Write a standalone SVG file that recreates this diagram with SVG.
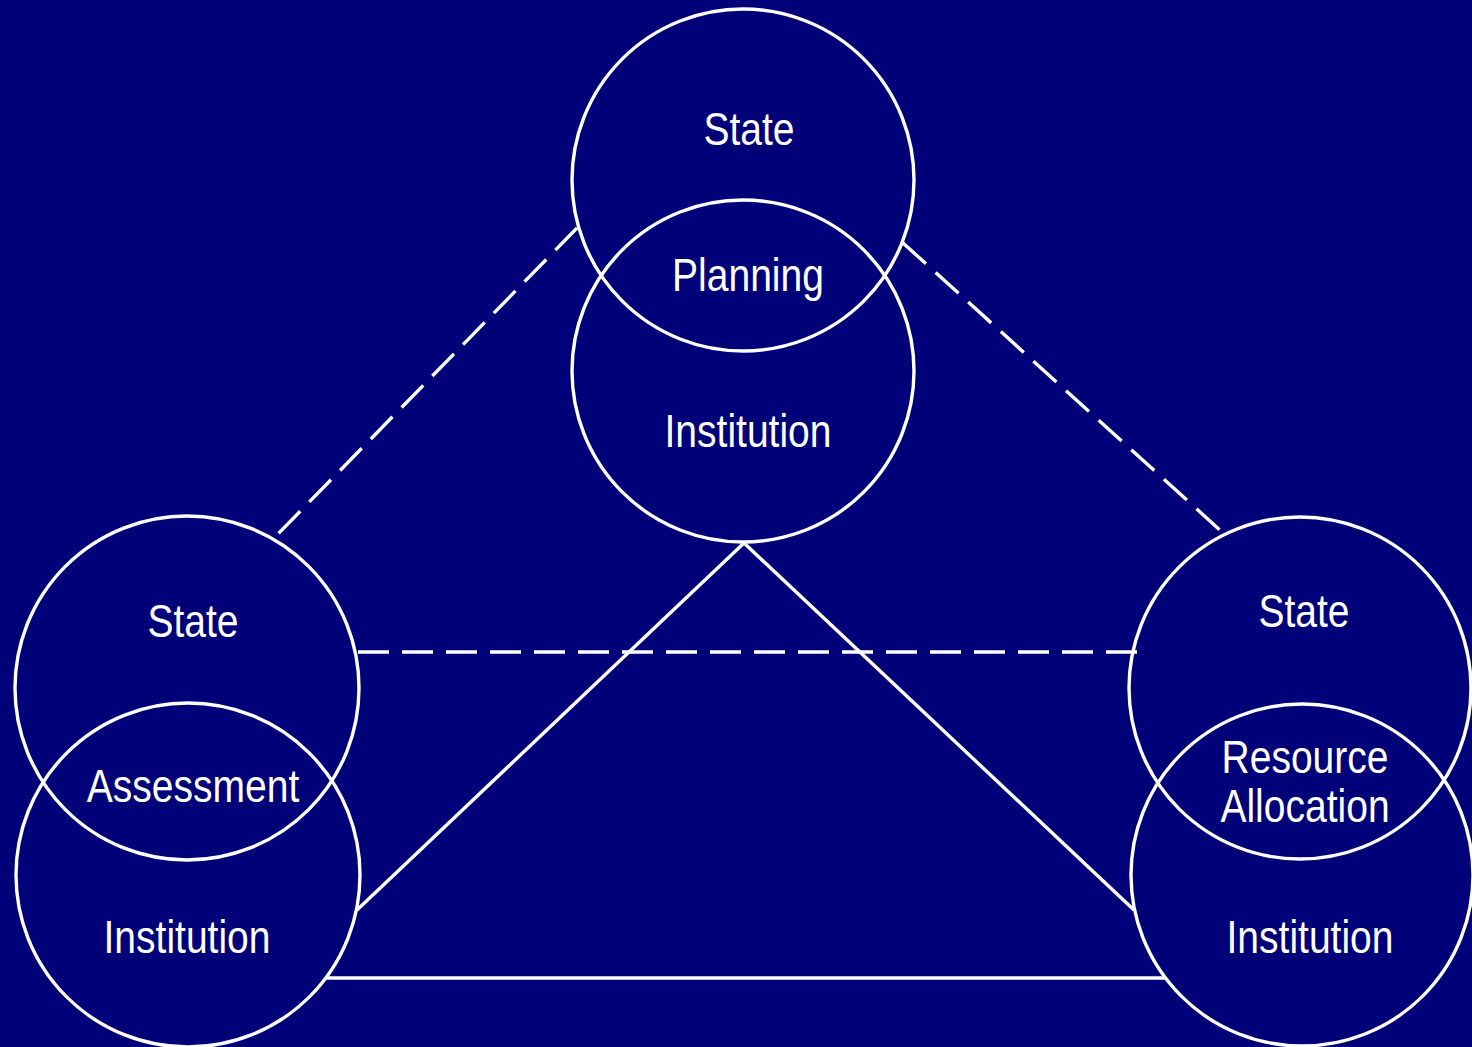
<svg xmlns="http://www.w3.org/2000/svg" width="1472" height="1047" viewBox="0 0 1472 1047">
<style>
.c{fill:none;stroke:#fff;stroke-width:3.4}
.l{fill:none;stroke:#fff;stroke-width:3.4}
.d{fill:none;stroke:#fff;stroke-width:3.4;stroke-dasharray:31 13}
.t{font-family:"Liberation Sans",Arial,sans-serif;font-size:47px;fill:#fff;text-anchor:middle}
</style>
<rect width="1472" height="1047" fill="#000078"/>
<g id="connectors">
<line class="d" x1="577" y1="228" x2="276" y2="536"/>
<line class="d" x1="903" y1="243" x2="1221" y2="531"/>
<line class="d" x1="358" y1="652" x2="1137" y2="652"/>
<line class="l" x1="744" y1="543" x2="357" y2="910"/>
<line class="l" x1="744" y1="543" x2="1134" y2="910"/>
<line class="l" x1="327" y1="978" x2="1165" y2="978"/>
</g>
<g id="planning">
<circle class="c" cx="743" cy="180" r="171"/>
<circle class="c" cx="743" cy="371" r="171"/>
<text class="t" transform="translate(749,145) scale(0.83,1)">State</text>
<text class="t" transform="translate(748,291) scale(0.83,1)">Planning</text>
<text class="t" transform="translate(748,447) scale(0.83,1)">Institution</text>
</g>
<g id="assessment">
<circle class="c" cx="187" cy="688" r="172"/>
<circle class="c" cx="188" cy="875" r="172"/>
<text class="t" transform="translate(193,637) scale(0.83,1)">State</text>
<text class="t" transform="translate(193,802) scale(0.83,1)">Assessment</text>
<text class="t" transform="translate(187,953) scale(0.83,1)">Institution</text>
</g>
<g id="resource-allocation">
<circle class="c" cx="1300" cy="688" r="171"/>
<circle class="c" cx="1302" cy="875" r="171"/>
<text class="t" transform="translate(1304,627) scale(0.83,1)">State</text>
<text class="t" transform="translate(1305,773) scale(0.83,1)">Resource</text>
<text class="t" transform="translate(1305,822) scale(0.83,1)">Allocation</text>
<text class="t" transform="translate(1310,953) scale(0.83,1)">Institution</text>
</g>
</svg>
